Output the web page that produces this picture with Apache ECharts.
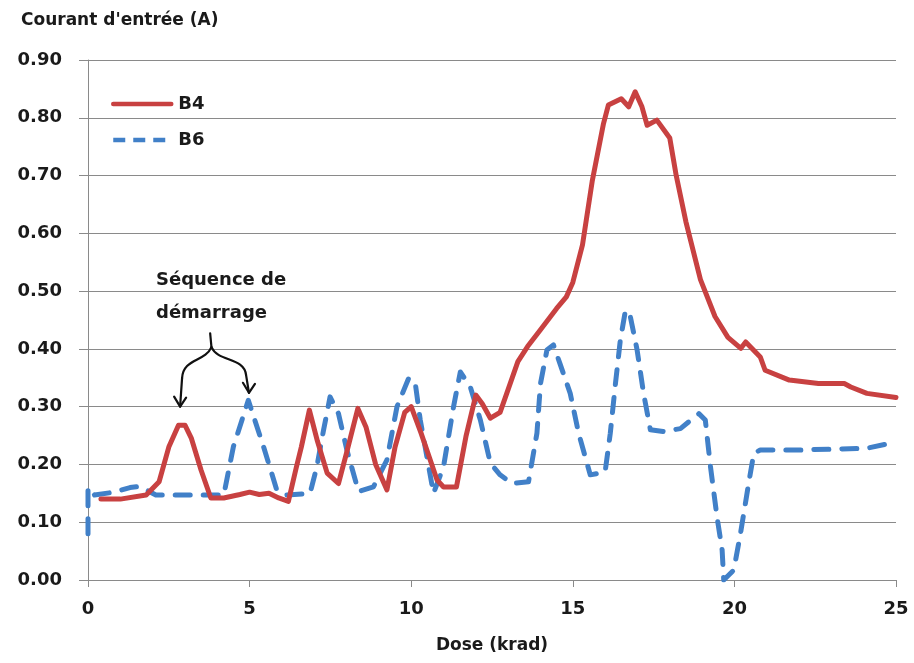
<!DOCTYPE html>
<html>
<head>
<meta charset="utf-8">
<script src="https://cdn.jsdelivr.net/npm/echarts@6/dist/echarts.min.js"></script>
<style>
  html, body { margin: 0; padding: 0; background: #fff; }
  #chart { width: 914px; height: 663px; }
</style>
</head>
<body>
<div id="chart"></div>
<script>
// Input current versus total dose for the two boards
const doseB4 = [0.4, 1.0, 1.8, 2.2, 2.5, 2.8, 3.0, 3.2, 3.5, 3.8, 4.2, 4.7, 5.0, 5.3, 5.6, 5.9, 6.2,
  6.45, 6.6, 6.85, 7.1, 7.4, 7.75, 8.0, 8.35, 8.6, 8.9, 9.25, 9.5, 9.8, 10.0, 10.3, 10.8, 11.0, 11.4,
  11.7, 12.0, 12.2, 12.45, 12.75, 13.0, 13.3, 13.6, 14.0, 14.5, 14.8, 15.0, 15.3, 15.6, 15.95, 16.1,
  16.5, 16.73, 16.93, 17.14, 17.3, 17.6, 18.0, 18.2, 18.5, 18.95, 19.4, 19.8, 20.2, 20.35, 20.8,
  20.95, 21.7, 22.6, 23.4, 23.6, 24.1, 25.0];
const currentB4 = [0.140, 0.140, 0.147, 0.170, 0.230, 0.268, 0.268, 0.245, 0.190, 0.142, 0.142, 0.148,
  0.152, 0.148, 0.150, 0.142, 0.136, 0.196, 0.230, 0.294, 0.240, 0.185, 0.167, 0.220, 0.297, 0.265,
  0.200, 0.156, 0.230, 0.290, 0.300, 0.255, 0.173, 0.161, 0.161, 0.250, 0.320, 0.305, 0.280, 0.290,
  0.330, 0.378, 0.404, 0.433, 0.470, 0.490, 0.515, 0.580, 0.690, 0.790, 0.822, 0.833, 0.819, 0.845,
  0.819, 0.787, 0.796, 0.765, 0.700, 0.620, 0.520, 0.456, 0.420, 0.401, 0.412, 0.386, 0.363, 0.346,
  0.340, 0.340, 0.334, 0.323, 0.316];

const doseB6 = [0.0, 0.0, 0.2, 0.8, 1.3, 1.6, 2.1, 3.0, 4.2, 4.5, 4.96, 5.43, 5.84, 6.15, 6.87, 7.08,
  7.29, 7.49, 7.75, 8.01, 8.37, 8.83, 9.25, 9.56, 9.92, 10.12, 10.28, 10.69, 11.0, 11.31, 11.52, 11.83,
  12.14, 12.45, 12.75, 13.12, 13.63, 13.89, 14.0, 14.2, 14.4, 14.6, 14.92, 15.18, 15.54, 16.0, 16.16,
  16.32, 16.47, 16.63, 16.78, 16.99, 17.19, 17.4, 17.81, 18.33, 18.9, 19.1, 19.26, 19.46, 19.62, 19.67,
  19.98, 20.19, 20.44, 20.6, 20.8, 22.0, 24.1, 24.93];
const currentB6 = [0.080, 0.160, 0.147, 0.152, 0.160, 0.162, 0.147, 0.147, 0.147, 0.231, 0.311, 0.231,
  0.156, 0.147, 0.150, 0.196, 0.260, 0.317, 0.288, 0.225, 0.153, 0.161, 0.208, 0.300, 0.349, 0.343,
  0.277, 0.150, 0.196, 0.300, 0.360, 0.334, 0.277, 0.202, 0.182, 0.167, 0.170, 0.254, 0.340, 0.398,
  0.407, 0.375, 0.323, 0.254, 0.182, 0.187, 0.254, 0.340, 0.415, 0.467, 0.456, 0.398, 0.323, 0.260,
  0.257, 0.262, 0.288, 0.277, 0.196, 0.110, 0.052, 0.000, 0.017, 0.081, 0.167, 0.219, 0.225, 0.225,
  0.228, 0.238];

const seriesNames = ['B4', 'B6'];
const yAxisTitle = "Courant d'entrée (A)";
const xAxisTitle = 'Dose (krad)';
const noteLines = ['Séquence de', 'démarrage'];

const FONT = 'DejaVu Sans';
const TEXT = '#1a1a1a';
const GRID = '#8a8a8a';
const RED = '#c84141';
const BLUE = '#4180c8';

const zip = (xs, ys) => xs.map((x, i) => [x, ys[i]]);

const chart = echarts.init(document.getElementById('chart'));

chart.setOption({
  animation: false,
  backgroundColor: '#fff',
  textStyle: { fontFamily: FONT },
  grid: { left: 88, right: 18, top: 60, bottom: 83 },
  title: {
    text: yAxisTitle,
    left: 16, top: 7,
    textStyle: { fontFamily: FONT, fontSize: 17, fontWeight: 'bold', color: TEXT }
  },
  legend: {
    orient: 'vertical',
    left: 106, top: 90,
    itemWidth: 58, itemHeight: 14, itemGap: 18,
    itemStyle: { opacity: 0 },
    lineStyle: { width: 4.5 },
    textStyle: { fontFamily: FONT, fontSize: 18, fontWeight: 'bold', color: TEXT, padding: [0, 0, 0, 2] },
    data: [
      { name: seriesNames[0] },
      { name: seriesNames[1], lineStyle: { type: [12, 8], cap: 'butt' } }
    ]
  },
  xAxis: {
    type: 'value',
    min: 0, max: 25, interval: 5,
    name: xAxisTitle,
    nameLocation: 'middle',
    nameGap: 57,
    nameTextStyle: { fontFamily: FONT, fontSize: 17, fontWeight: 'bold', color: TEXT },
    axisLine: { show: true, onZero: false, lineStyle: { color: GRID, width: 1 } },
    axisTick: { show: true, inside: false, length: 7, lineStyle: { color: GRID } },
    axisLabel: { fontFamily: FONT, fontSize: 18, fontWeight: 'bold', color: TEXT, margin: 20 },
    splitLine: { show: false }
  },
  yAxis: {
    type: 'value',
    min: 0, max: 0.9, interval: 0.1,
    axisLine: { show: true, lineStyle: { color: GRID, width: 1 } },
    axisTick: { show: true, length: 9, lineStyle: { color: GRID } },
    axisLabel: {
      fontFamily: FONT, fontSize: 18, fontWeight: 'bold', color: TEXT, margin: 26,
      formatter: v => v.toFixed(2)
    },
    splitLine: { show: true, lineStyle: { color: GRID, width: 1 } }
  },
  series: [
    {
      name: seriesNames[0],
      type: 'line',
      data: zip(doseB4, currentB4),
      symbol: 'none',
      lineStyle: { color: RED, width: 5, join: 'round', cap: 'round' },
      itemStyle: { color: RED },
      z: 3
    },
    {
      name: seriesNames[1],
      type: 'line',
      data: zip(doseB6, currentB6),
      symbol: 'none',
      lineStyle: { color: BLUE, width: 5, type: [15, 13], cap: 'round', join: 'round' },
      itemStyle: { color: BLUE },
      z: 2
    }
  ]
});

// Curved double arrow pointing at the two start-up peaks, placed in data units
const toPx = (d, v) => chart.convertToPixel({ gridIndex: 0 }, [d, v]);
const braceTop = toPx(3.78, 0.427);
const fork = toPx(3.82, 0.403);
const leftEnd = toPx(2.91, 0.349), leftTip = toPx(2.85, 0.300);
const rightEnd = toPx(4.89, 0.355), rightTip = toPx(4.98, 0.324);
const lc1 = toPx(3.62, 0.377), lc2 = toPx(2.94, 0.384);
const rc1 = toPx(4.02, 0.377), rc2 = toPx(4.83, 0.386);
const stroke = { stroke: '#111', lineWidth: 2.2, fill: null, lineCap: 'round', lineJoin: 'round' };
const head = (tip) => ({
  type: 'polyline',
  shape: { points: [[tip[0] - 6, tip[1] - 10], tip, [tip[0] + 6, tip[1] - 9]] },
  style: stroke, z: 10
});

chart.setOption({
  graphic: [
    { type: 'line', shape: { x1: braceTop[0], y1: braceTop[1], x2: fork[0], y2: fork[1] }, style: stroke, z: 10 },
    { type: 'bezierCurve', shape: { x1: fork[0], y1: fork[1], cpx1: lc1[0], cpy1: lc1[1], cpx2: lc2[0], cpy2: lc2[1], x2: leftEnd[0], y2: leftEnd[1] }, style: stroke, z: 10 },
    { type: 'line', shape: { x1: leftEnd[0], y1: leftEnd[1], x2: leftTip[0], y2: leftTip[1] }, style: stroke, z: 10 },
    { type: 'bezierCurve', shape: { x1: fork[0], y1: fork[1], cpx1: rc1[0], cpy1: rc1[1], cpx2: rc2[0], cpy2: rc2[1], x2: rightEnd[0], y2: rightEnd[1] }, style: stroke, z: 10 },
    { type: 'line', shape: { x1: rightEnd[0], y1: rightEnd[1], x2: rightTip[0], y2: rightTip[1] }, style: stroke, z: 10 },
    head(leftTip),
    head(rightTip),
    {
      type: 'text',
      left: 156, top: 264,
      style: {
        text: noteLines.join('\n'),
        font: 'bold 18px "DejaVu Sans"',
        fill: TEXT,
        lineHeight: 33
      },
      z: 10
    }
  ]
});
</script>
</body>
</html>
